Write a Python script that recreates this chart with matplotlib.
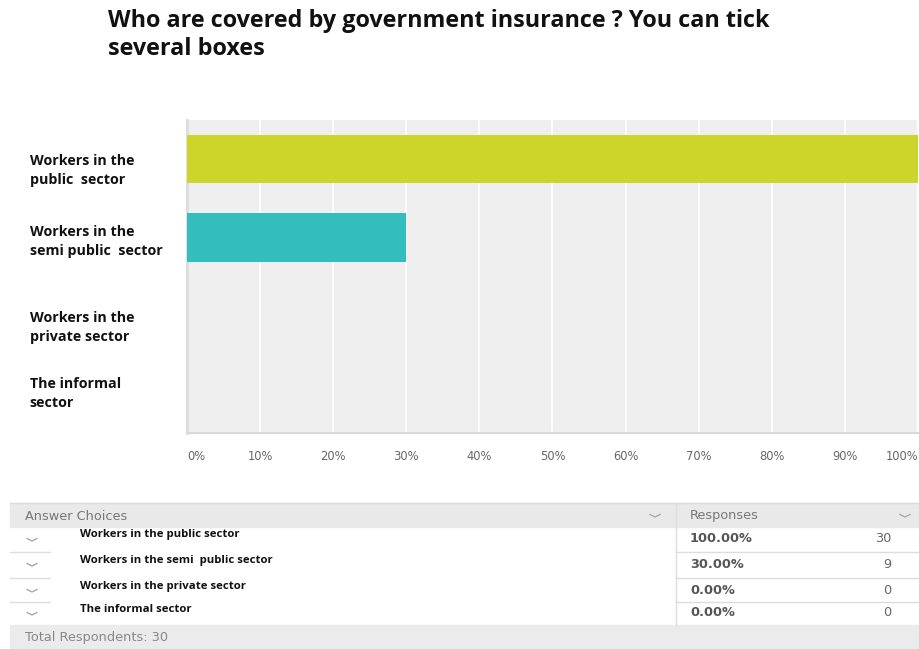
import matplotlib.pyplot as plt
import numpy as np

# survey answers
choices = ['Workers in the\npublic  sector', 'Workers in the\nsemi public  sector',
           'Workers in the\nprivate sector', 'The informal\nsector']
table_choices = ['Workers in the public sector', 'Workers in the semi  public sector',
                 'Workers in the private sector', 'The informal sector']
percent = [100.0, 30.0, 0.0, 0.0]
counts = [30, 9, 0, 0]
total_respondents = 30
bar_colors = ['#cdd52a', '#33bdbd', '#8a8ac4', '#f0a030']
xticks = list(range(0, 101, 10))

W, H = 920, 649
fig = plt.figure(figsize=(W / 100, H / 100), dpi=100)
fig.patch.set_facecolor('white')

def px(x0, y0, x1, y1):
    # pixel box (top-left origin) -> figure fraction rect
    return [x0 / W, 1 - y1 / H, (x1 - x0) / W, (y1 - y0) / H]

fig.text(108 / W, 1 - 9 / H, 'Who are covered by government insurance ? You can tick\nseveral boxes',
         ha='left', va='top', fontsize=16.8, fontweight='bold', family='Open Sans',
         color='#111111', linespacing=1.2)

# ---- bar chart
ax = fig.add_axes(px(187, 120, 918, 433))
ax.set_facecolor('#efefef')
ypos = np.arange(len(choices))
ax.barh(ypos, percent, height=0.62, color=bar_colors, zorder=3)
ax.set_xlim(0, 100)
ax.set_ylim(len(choices) - 0.5, -0.5)
ax.set_xticks(xticks)
ax.grid(axis='x', color='white', linewidth=1.2, zorder=1)
ax.tick_params(length=0)
ax.set_xticklabels([f'{t}%' for t in xticks], fontsize=8.3, color='#666666', family='DejaVu Sans')
ax.tick_params(axis='x', pad=12)
for lbl in ax.get_xticklabels():
    lbl.set_ha('center')
ax.get_xticklabels()[0].set_ha('left')
ax.get_xticklabels()[-1].set_ha('right')
ax.set_yticks(ypos)
ax.set_yticklabels([])
label_shift = [0.14, 0.05, 0.15, 0.0]
for y, name, dy in zip(ypos, choices, label_shift):
    ax.text(-0.215, y + dy, name, transform=ax.get_yaxis_transform(), ha='left', va='center',
            fontsize=10.3, fontweight='bold', family='Open Sans', color='#111111', linespacing=1.45)
for side in ['top', 'right']:
    ax.spines[side].set_visible(False)
ax.spines['left'].set_color('#dddddd')
ax.spines['left'].set_linewidth(2)
ax.spines['bottom'].set_color('#d8d8d8')
ax.spines['bottom'].set_linewidth(1.5)

# ---- responses table
tb = fig.add_axes([0, 0, 1, 1])
tb.set_xlim(0, W)
tb.set_ylim(H, 0)
tb.axis('off')
tb.add_patch(plt.Rectangle((10, 503), 910, 24, color='#e9e9e9', zorder=0))
tb.add_patch(plt.Rectangle((10, 625), 910, 24, color='#ebebeb', zorder=0))
tb.plot([10, 920], [503, 503], color='#dcdcdc', lw=1)
tb.plot([676, 676], [503, 625], color='#dddddd', lw=1)
tb.text(25, 516, 'Answer Choices', fontsize=9.3, color='#777777', va='center', family='DejaVu Sans')
tb.text(690, 516, 'Responses', fontsize=9.3, color='#777777', va='center', family='DejaVu Sans')
tb.text(25, 637, f'Total Respondents: {total_respondents}', fontsize=9.3, color='#888888',
        va='center', family='DejaVu Sans')

def caret(x, y):
    tb.plot([x - 5, x, x + 5], [y - 1.5, y + 1, y - 1.5], color='#aaaaaa', lw=1)

caret(655, 516)
caret(905, 516)

row_y = [539, 564, 590, 613]
for i, (name, p, c) in enumerate(zip(table_choices, percent, counts)):
    y = row_y[i]
    caret(32, y + 1)
    tb.text(80, y - 4, name, fontsize=8.2, fontweight='bold', color='#111111', va='center',
            family='Open Sans')
    tb.text(690, y, f'{p:.2f}%', fontsize=9.3, fontweight='bold', color='#555555', va='center',
            family='DejaVu Sans')
    tb.text(891, y, f'{c}', fontsize=9.3, color='#666666', va='center', ha='right',
            family='DejaVu Sans')
    if i < len(row_y) - 1:
        yl = (row_y[i] + row_y[i + 1]) / 2 + 0.5
        tb.plot([10, 50], [yl, yl], color='#dddddd', lw=1)
        tb.plot([676, 920], [yl, yl], color='#dddddd', lw=1)

fig.savefig('out.png', dpi=100)
